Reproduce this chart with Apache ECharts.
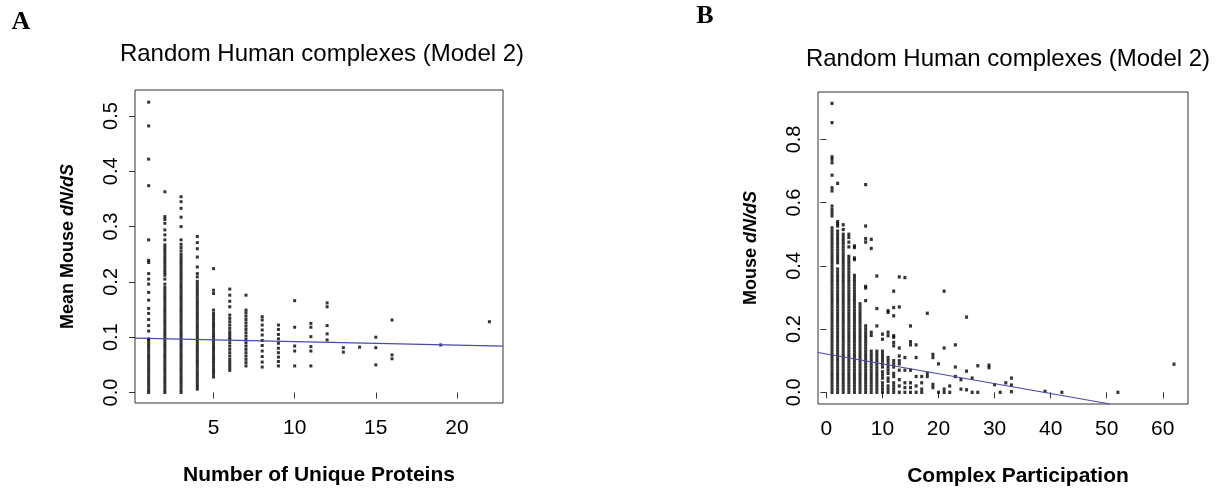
<!DOCTYPE html>
<html>
<head>
<meta charset="utf-8">
<script src="https://cdn.jsdelivr.net/npm/echarts@6/dist/echarts.min.js"></script>
<style>
html,body{margin:0;padding:0;background:#fff;}
#chart{width:1225px;height:492px;}
</style>
</head>
<body>
<div id="chart"></div>
<script>
// ---------- Panel A: Number of Unique Proteins vs Mean Mouse dN/dS ----------
const xTicksA = [5, 10, 15, 20];
const yTicksA = [0, 0.1, 0.2, 0.3, 0.4, 0.5];
const xA = [1, 2, 3, 4, 5, 6, 7, 8, 9, 10, 11, 12, 13, 14, 15, 16, 19, 22];
const yA1 = [0,0.005,0.01,0.015,0.02,0.025,0.03,0.035,0.04,0.045,0.05,0.055,0.06,0.065,0.07,0.075,0.08,0.085,0.09,0.095,0.097,0.111,0.121,0.132,0.143,0.152,0.167,0.181,0.196,0.205,0.215,0.235,0.239,0.276,0.374,0.422,0.482,0.525];
const yA2 = [0,0.005,0.01,0.015,0.02,0.025,0.03,0.035,0.04,0.045,0.05,0.055,0.06,0.065,0.07,0.075,0.08,0.085,0.09,0.095,0.1,0.105,0.11,0.115,0.12,0.125,0.13,0.135,0.14,0.145,0.15,0.155,0.16,0.165,0.17,0.175,0.18,0.185,0.19,0.196,0.205,0.212,0.217,0.222,0.227,0.232,0.237,0.242,0.247,0.252,0.257,0.262,0.267,0.276,0.285,0.294,0.306,0.313,0.318,0.363];
const yA3 = [0,0.005,0.01,0.015,0.02,0.025,0.03,0.035,0.04,0.045,0.05,0.055,0.06,0.065,0.07,0.075,0.08,0.085,0.09,0.095,0.1,0.105,0.11,0.115,0.12,0.125,0.13,0.135,0.14,0.145,0.15,0.155,0.16,0.165,0.17,0.175,0.18,0.185,0.19,0.195,0.2,0.205,0.21,0.215,0.22,0.225,0.23,0.235,0.24,0.245,0.25,0.256,0.262,0.268,0.276,0.3,0.317,0.333,0.345,0.354];
const yA4 = [0.006,0.011,0.016,0.021,0.026,0.031,0.036,0.041,0.046,0.051,0.056,0.061,0.066,0.071,0.076,0.081,0.086,0.091,0.096,0.101,0.106,0.111,0.116,0.121,0.126,0.131,0.136,0.141,0.146,0.151,0.156,0.161,0.166,0.171,0.176,0.181,0.186,0.191,0.196,0.201,0.209,0.215,0.227,0.245,0.26,0.271,0.282];
const yA5 = [0.028,0.033,0.038,0.043,0.048,0.053,0.058,0.063,0.068,0.073,0.078,0.083,0.088,0.093,0.098,0.103,0.108,0.113,0.118,0.123,0.128,0.133,0.138,0.143,0.149,0.179,0.185,0.224];
const yA6 = [0.04,0.045,0.05,0.055,0.06,0.066,0.072,0.078,0.084,0.09,0.096,0.1,0.105,0.11,0.116,0.122,0.128,0.134,0.14,0.155,0.165,0.176,0.187];
const yA7 = [0.048,0.054,0.06,0.066,0.072,0.078,0.084,0.09,0.096,0.102,0.108,0.114,0.12,0.126,0.132,0.138,0.144,0.149,0.176];
const yA8 = [0.046,0.055,0.065,0.075,0.085,0.094,0.104,0.113,0.122,0.131,0.137];
const yA9 = [0.048,0.056,0.064,0.072,0.08,0.089,0.097,0.105,0.114,0.122];
const yA10 = [0.048,0.075,0.084,0.118,0.166];
const yA11 = [0.048,0.075,0.083,0.101,0.118,0.125];
const yA12 = [0.095,0.106,0.121,0.155,0.162];
const yA13 = [0.073,0.081];
const yA14 = [0.082];
const yA15 = [0.05,0.081,0.1];
const yA16 = [0.061,0.068,0.131];
const yA19 = [0.086];
const yA22 = [0.128];
const colsA = [yA1,yA2,yA3,yA4,yA5,yA6,yA7,yA8,yA9,yA10,yA11,yA12,yA13,yA14,yA15,yA16,yA19,yA22];
const fitA = [[0.16, 0.0984], [22.84, 0.084]];

// ---------- Panel B: Complex Participation vs Mouse dN/dS ----------
const xTicksB = [0, 10, 20, 30, 40, 50, 60];
const yTicksB = [0, 0.2, 0.4, 0.6, 0.8];
const xB = [1, 2, 3, 4, 5, 6, 7, 8, 9, 10, 11, 12];
const yB1 = [0,0.01,0.02,0.03,0.04,0.05,0.06,0.07,0.08,0.09,0.1,0.11,0.12,0.13,0.14,0.15,0.16,0.17,0.18,0.19,0.2,0.21,0.22,0.23,0.24,0.25,0.26,0.27,0.28,0.29,0.3,0.31,0.32,0.33,0.34,0.35,0.36,0.37,0.38,0.39,0.4,0.41,0.42,0.43,0.44,0.45,0.46,0.47,0.48,0.49,0.5,0.51,0.52,0.558,0.568,0.578,0.589,0.637,0.647,0.687,0.726,0.737,0.745,0.853,0.914];
const yB2 = [0,0.01,0.02,0.03,0.04,0.05,0.06,0.07,0.08,0.09,0.1,0.11,0.12,0.13,0.14,0.15,0.16,0.17,0.18,0.19,0.2,0.21,0.22,0.23,0.24,0.25,0.26,0.27,0.28,0.29,0.3,0.31,0.32,0.33,0.34,0.35,0.36,0.37,0.38,0.39,0.41,0.42,0.43,0.44,0.45,0.46,0.47,0.48,0.49,0.5,0.51,0.526,0.533,0.54,0.661];
const yB3 = [0,0.01,0.02,0.03,0.04,0.05,0.06,0.07,0.08,0.09,0.1,0.11,0.12,0.13,0.14,0.15,0.16,0.17,0.18,0.19,0.2,0.21,0.22,0.23,0.24,0.25,0.26,0.27,0.28,0.29,0.3,0.31,0.32,0.33,0.34,0.35,0.36,0.37,0.38,0.39,0.4,0.41,0.42,0.43,0.44,0.45,0.46,0.47,0.48,0.49,0.5,0.515,0.53];
const yB4 = [0,0.01,0.02,0.03,0.04,0.05,0.06,0.07,0.08,0.09,0.1,0.11,0.12,0.13,0.14,0.15,0.16,0.17,0.18,0.19,0.2,0.21,0.22,0.23,0.24,0.25,0.26,0.27,0.28,0.29,0.3,0.31,0.32,0.33,0.34,0.35,0.36,0.37,0.38,0.39,0.4,0.41,0.42,0.43,0.46,0.475,0.49,0.5];
const yB5 = [0,0.01,0.02,0.03,0.04,0.05,0.06,0.07,0.08,0.09,0.1,0.11,0.12,0.13,0.14,0.15,0.16,0.17,0.18,0.19,0.2,0.21,0.22,0.23,0.24,0.25,0.26,0.27,0.28,0.29,0.3,0.31,0.32,0.33,0.34,0.35,0.36,0.37,0.42,0.425,0.458,0.463];
const yB6 = [0,0.01,0.02,0.03,0.04,0.05,0.06,0.07,0.08,0.09,0.1,0.11,0.12,0.13,0.14,0.15,0.16,0.17,0.18,0.19,0.2,0.21,0.22,0.23,0.24,0.25,0.26,0.27,0.28];
const yB7 = [0,0.01,0.02,0.03,0.04,0.05,0.06,0.07,0.08,0.09,0.1,0.11,0.12,0.13,0.14,0.15,0.16,0.17,0.18,0.19,0.2,0.21,0.29,0.33,0.335,0.475,0.486,0.526,0.657];
const yB8 = [0,0.01,0.02,0.03,0.04,0.05,0.06,0.07,0.08,0.09,0.1,0.11,0.12,0.13,0.18,0.19,0.455,0.484];
const yB9 = [0,0.01,0.02,0.03,0.04,0.05,0.06,0.07,0.08,0.09,0.1,0.11,0.12,0.13,0.21,0.265,0.368];
const yB10 = [0,0.01,0.02,0.03,0.045,0.055,0.065,0.08,0.09,0.1,0.11,0.12,0.13,0.168,0.184];
const yB11 = [0,0.01,0.02,0.035,0.045,0.06,0.07,0.08,0.09,0.1,0.11,0.179,0.19,0.253,0.258];
const yB12 = [0,0.01,0.02,0.03,0.05,0.06,0.08,0.09,0.1,0.147,0.158,0.174,0.179,0.242,0.268,0.32];
const colsB = [yB1,yB2,yB3,yB4,yB5,yB6,yB7,yB8,yB9,yB10,yB11,yB12];
const sparseB = [
  [13,0],[13,0.02],[13,0.04],[13,0.07],[13,0.09],[13,0.1],[13,0.115],[13,0.14],[13,0.27],[13,0.365],
  [14,0],[14,0.015],[14,0.03],[14,0.07],[14,0.11],[14,0.363],
  [15,0],[15,0.015],[15,0.03],[15,0.07],[15,0.15],[15,0.16],[15,0.21],
  [16,0],[16,0.02],[16,0.05],[16,0.11],[16,0.15],
  [17,0],[17,0.01],[17,0.03],[17,0.05],
  [18,0.05],[18,0.06],[18,0.25],
  [19,0.015],[19,0.025],[19,0.11],[19,0.12],
  [20,0],[20,0.09],
  [21,0],[21,0.01],[21,0.14],[21,0.32],
  [22,0],[22,0.02],
  [23,0.05],[23,0.08],[23,0.15],
  [24,0.01],[24,0.04],
  [25,0.008],[25,0.067],[25,0.238],
  [26,0],[26,0.045],
  [27,0],[27,0.084],
  [29,0.078],[29,0.086],
  [30,0.024],[31,0],[32,0.03],
  [33,0.002],[33,0.023],[33,0.045],
  [39,0.003],[42,0],[52,0],[62,0.089]
];
const fitB = [[-1.5, 0.126], [50.6, -0.037]];

// ---------- build ----------
function pairs(xs, cols) {
  const out = [];
  xs.forEach((x, i) => cols[i].forEach(y => out.push([x, y])));
  return out;
}
const ptsA = pairs(xA, colsA);
const ptsB = pairs(xB, colsB).concat(sparseB);

const FONT = '"Liberation Sans", Arial, Helvetica, sans-serif';
const axisCol = '#333';

function xAxisDef(grid, min, max, ticks, name, namePad) {
  return {
    type: 'value', gridIndex: grid, min: min, max: max,
    axisLine: { show: false },
    splitLine: { show: false },
    axisTick: { show: true, inside: false, length: 6, customValues: ticks, lineStyle: { color: axisCol, width: 1 } },
    axisLabel: { customValues: ticks, margin: 15, color: '#000', fontSize: 21, fontFamily: FONT, formatter: v => String(v) },
    name: name, nameLocation: 'middle', nameGap: 62,
    nameTextStyle: { color: '#000', fontSize: 21, fontWeight: 'bold', fontFamily: FONT, padding: namePad }
  };
}
function yAxisDef(grid, min, max, ticks, nameRich) {
  return {
    type: 'value', gridIndex: grid, min: min, max: max,
    axisLine: { show: false },
    splitLine: { show: false },
    axisTick: { show: true, inside: false, length: 6, customValues: ticks, lineStyle: { color: axisCol, width: 1 } },
    axisLabel: { customValues: ticks, rotate: 90, margin: 14, color: '#000', fontSize: 20, fontFamily: FONT, formatter: v => v.toFixed(1) },
    name: nameRich, nameLocation: 'middle', nameGap: 58, nameRotate: 90,
    nameTextStyle: {
      color: '#000', fontSize: 18, fontWeight: 'bold', fontFamily: FONT,
      rich: { i: { fontSize: 18, fontWeight: 'bold', fontStyle: 'italic', fontFamily: FONT, color: '#000' } }
    }
  };
}

const chart = echarts.init(document.getElementById('chart'), null, { renderer: 'canvas' });
chart.setOption({
  animation: false,
  backgroundColor: '#fff',
  grid: [
    { left: 135, top: 90, width: 368, height: 313, show: true, borderColor: axisCol, borderWidth: 1, backgroundColor: 'transparent' },
    { left: 818, top: 92, width: 370, height: 313, show: true, borderColor: axisCol, borderWidth: 1, backgroundColor: 'transparent' }
  ],
  xAxis: [
    xAxisDef(0, 0.16, 22.84, xTicksA, 'Number of Unique Proteins', [0, 0, 0, 0]),
    xAxisDef(1, -1.5, 64.5, xTicksB, 'Complex Participation', [0, 0, 0, 30])
  ],
  yAxis: [
    yAxisDef(0, -0.019, 0.547, yTicksA, 'Mean Mouse {i|dN/dS}'),
    yAxisDef(1, -0.037, 0.95, yTicksB, 'Mouse {i|dN/dS}')
  ],
  graphic: [
    { type: 'text', x: 21, y: 22, style: { text: 'A', font: 'bold 26px "Liberation Serif", "Times New Roman", serif', fill: '#000', align: 'center', verticalAlign: 'middle', textAlign: 'center', textVerticalAlign: 'middle' } },
    { type: 'text', x: 705, y: 16, style: { text: 'B', font: 'bold 26px "Liberation Serif", "Times New Roman", serif', fill: '#000', align: 'center', verticalAlign: 'middle', textAlign: 'center', textVerticalAlign: 'middle' } },
    { type: 'text', x: 322, y: 54, style: { text: 'Random Human complexes (Model 2)', font: '24px ' + FONT, fill: '#000', align: 'center', verticalAlign: 'middle', textAlign: 'center', textVerticalAlign: 'middle' } },
    { type: 'text', x: 1008, y: 59, style: { text: 'Random Human complexes (Model 2)', font: '24px ' + FONT, fill: '#000', align: 'center', verticalAlign: 'middle', textAlign: 'center', textVerticalAlign: 'middle' } }
  ],
  series: [
    { type: 'scatter', xAxisIndex: 0, yAxisIndex: 0, data: ptsA, symbol: 'rect', symbolSize: [3, 3], itemStyle: { color: '#000' }, silent: true, z: 3 },
    { type: 'line', xAxisIndex: 0, yAxisIndex: 0, data: fitA, showSymbol: false, symbol: 'none', lineStyle: { color: '#4a4aa8', width: 1.2 }, silent: true, z: 4 },
    { type: 'scatter', xAxisIndex: 1, yAxisIndex: 1, data: ptsB, symbol: 'rect', symbolSize: [3, 3.3], itemStyle: { color: '#000' }, silent: true, z: 3 },
    { type: 'line', xAxisIndex: 1, yAxisIndex: 1, data: fitB, showSymbol: false, symbol: 'none', lineStyle: { color: '#4a4aa8', width: 1.2 }, silent: true, z: 4 }
  ]
});
</script>
</body>
</html>
